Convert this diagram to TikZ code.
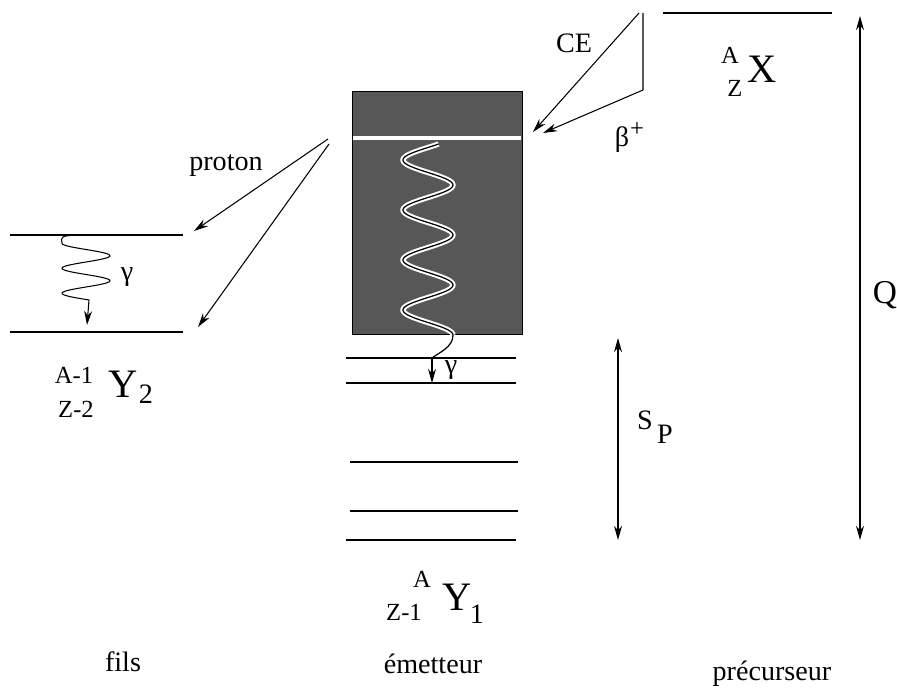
\documentclass[tikz,border=0pt]{standalone}
\usepackage{fontspec}
\setmainfont{Liberation Serif}
\usetikzlibrary{arrows.meta, positioning, calc}

\begin{document}
\begin{tikzpicture}[
    x=0.02cm, y=-0.02cm,
    >={Stealth[length=8pt, width=4.5pt, inset=2.5pt]},
    level/.style={line width=0.6pt},
    ground/.style={line width=1.6pt},
    arrow/.style={->, line width=0.6pt},
    dblarrow/.style={<->, line width=0.8pt},
    wave/.style={line width=0.7pt},
    txt/.style={inner sep=0pt, anchor=base, font=\fontsize{16}{19}\selectfont},
    big/.style={inner sep=0pt, anchor=base, font=\fontsize{23}{27}\selectfont},
    idx/.style={inner sep=0pt, anchor=base, font=\fontsize{14}{16}\selectfont}
]
    \useasboundingbox (0,0) rectangle (897,693);

    % Emitter block
    \node (emit) [draw, line width=0.8pt, fill=black!66, minimum width=3.4cm, minimum height=4.86cm, anchor=north west, inner sep=0pt] at (352,91) {};
    \draw[white, line width=2pt] (353,138) -- (521,138);
    \draw[white, line width=3pt] plot[domain=144:335, samples=150] ({428-25*sin(7.2*(\x-147.5))}, \x);
    \draw[wave] plot[domain=144:335, samples=150] ({428-25*sin(7.2*(\x-147.5))}, \x);

    % Emitter levels
    \foreach \yy/\st/\xa/\xb in {358/level/346/516, 383/level/346/516, 462/level/350/518, 511/level/350/518, 540/ground/346/516}
        \draw[\st] (\xa,\yy) -- (\xb,\yy);

    \coordinate (wend) at (453,335);
    \coordinate (g1) at (432,358);
    \coordinate (g2) at (432,383);
    \draw[wave] (wend) .. controls (453,347) and (440,352) .. (g1);
    \draw[arrow] (g1) -- (g2);
    \node (gam1) [txt, anchor=center] at (451,370) {γ};

    % Precursor
    \draw[ground] (663,13) -- (832,13);
    \coordinate (cetop) at (639,13);
    \coordinate (ceend) at (533,132);
    \coordinate (btop) at (643,13);
    \coordinate (bknee) at (643,90);
    \coordinate (bend) at (543,133);
    \draw[arrow] (cetop) -- (ceend);
    \draw[arrow] (btop) -- (bknee) -- (bend);
    \node (ce) [txt] at (574,52) {CE};
    \node (beta) [txt] at (622,146) {β};
    \node (betap) [idx, anchor=center] at (637,130) {+};

    \node (xX) [big] at (762,82) {X};
    \node (xA) [idx] at (730,63) {A};
    \node (xZ) [idx] at (735,96) {Z};

    % Daughter
    \draw[level] (10,235) -- (183,235);
    \draw[ground] (10,332) -- (183,332);
    \coordinate (pst1) at (328,139);
    \coordinate (pst2) at (329,144);
    \coordinate (pend1) at (194,231);
    \coordinate (pend2) at (198,327);
    \draw[arrow] (pst1) -- (pend1);
    \draw[arrow] (pst2) -- (pend2);
    \node (prot) [txt] at (226,170) {proton};

    \coordinate (fw0) at (78,235);
    \coordinate (fw) at (87,325);
    \draw[arrow] (fw0) .. controls (61,236) .. (62,243.25) -- plot[domain=243.25:300, samples=80] ({86-24*sin(14.4*(\x-237))}, \x) -- (fw);
    \node (gam2) [txt, anchor=center] at (127,277) {γ};

    \node (yY2) [big] at (123,397) {Y};
    \node (y2) [idx, font=\fontsize{16}{19}\selectfont] at (146,403) {2};
    \node (yA2) [idx] at (74,383) {A-1};
    \node (yZ2) [idx] at (76,417) {Z-2};

    % Emitter label
    \node (yY1) [big] at (457,610) {Y};
    \node (y1) [idx, font=\fontsize{16}{19}\selectfont] at (477,623) {1};
    \node (yA1) [idx] at (422,587) {A};
    \node (yZ1) [idx] at (404,620) {Z-1};

    % Energies
    \coordinate (sptop) at (618,338);
    \coordinate (spbot) at (618,540);
    \coordinate (qtop) at (860,16);
    \coordinate (qbot) at (860,540);
    \draw[dblarrow] (sptop) -- (spbot);
    \draw[dblarrow] (qtop) -- (qbot);
    \node (spS) [txt] at (645,429) {S};
    \node (spP) [txt] at (665,443) {P};
    \node (q) [txt, font=\fontsize{19}{22}\selectfont] at (885,303) {Q};

    % Columns
    \node (fils) [txt] at (123,671) {fils};
    \node (emet) [txt] at (433,673) {émetteur};
    \node (prec) [txt] at (772,680) {précurseur};
\end{tikzpicture}
\end{document}
